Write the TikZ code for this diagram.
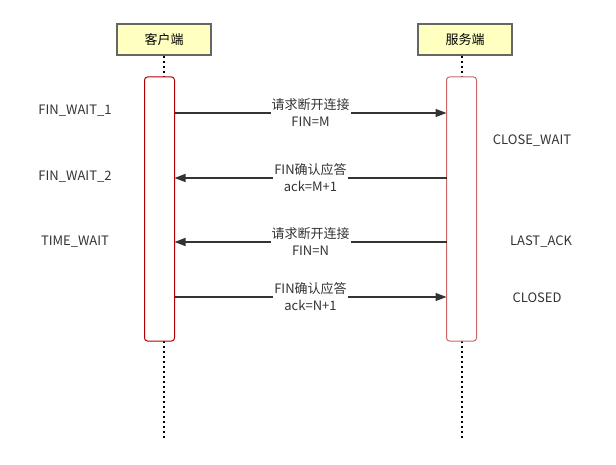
\documentclass[tikz,border=0pt]{standalone}
\usepackage{fontspec}
\setmainfont{Noto Sans CJK SC}
\usetikzlibrary{arrows.meta}
\definecolor{hdrfill}{HTML}{FFFFC0}
\definecolor{hdrline}{HTML}{666666}
\definecolor{cltred}{HTML}{B20000}
\definecolor{srvred}{HTML}{CC6666}
\definecolor{msgline}{HTML}{333333}
\tikzset{
    header/.style={draw=hdrline, line width=1.5pt, fill=hdrfill, minimum width=94pt, minimum height=31pt, inner sep=0pt, font=\fontsize{13}{15}\selectfont},
    activation/.style={draw=#1, line width=1pt, rounded corners=3pt, fill=white},
    lifeline/.style={line width=2pt, dash pattern=on 2pt off 3pt},
    msg/.style={draw=msgline, line width=1.2pt, -{Triangle[length=11pt,width=8pt]}},
    msglabel/.style={fill=white, inner sep=1pt, align=center, font=\fontsize{13}{17}\selectfont, text=msgline},
    state/.style={font=\fontsize{13}{15}\selectfont, text=msgline}
}
\begin{document}
\begin{tikzpicture}[x=1pt, y=-1pt]
    \useasboundingbox (0,0) rectangle (616,465);
    % Participants
    \node [header] (clt) at (164, 39.5) {客户端};
    \node [header] (srv) at (465, 39.5) {服务端};
    \coordinate (cltend) at (164, 438);
    \coordinate (srvend) at (462, 438);
    \draw [lifeline] (clt.south -| cltend) -- (cltend);
    \draw [lifeline] (srv.south -| srvend) -- (srvend);
    % Activations
    \draw [activation=cltred] (144.5, 77) rectangle (174.5, 341);
    \draw [activation=srvred] (446.5, 77) rectangle (476.5, 341);

    \coordinate (c1) at (174.5, 113);
    \coordinate (s1) at (446.5, 113);
    \coordinate (c2) at (174.5, 178);
    \coordinate (s2) at (446.5, 178);
    \coordinate (c3) at (174.5, 242);
    \coordinate (s3) at (446.5, 242);
    \coordinate (c4) at (174.5, 297);
    \coordinate (s4) at (446.5, 297);

    % Messages
    \draw [msg] (c1) -- (s1) node [midway, msglabel] {请求断开连接\\FIN=M};
    \draw [msg] (s2) -- (c2) node [midway, msglabel] {FIN确认应答\\ack=M+1};
    \draw [msg] (s3) -- (c3) node [midway, msglabel] {请求断开连接\\FIN=N};
    \draw [msg] (c4) -- (s4) node [midway, msglabel] {FIN确认应答\\ack=N+1};

    % States
    \node [state] (fw1) at (75, 111) {FIN\_WAIT\_1};
    \node [state] (fw2) at (75, 177) {FIN\_WAIT\_2};
    \node [state] (tw) at (75, 242) {TIME\_WAIT};
    \node [state] (cw) at (532, 141) {CLOSE\_WAIT};
    \node [state] (la) at (541, 242) {LAST\_ACK};
    \node [state] (cl) at (537, 298) {CLOSED};
\end{tikzpicture}
\end{document}
